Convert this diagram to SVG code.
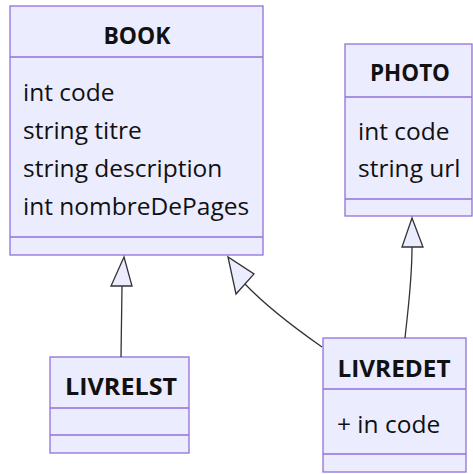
<svg xmlns="http://www.w3.org/2000/svg" width="473" height="474" viewBox="0 0 473 474">
<style>
.box{fill:#ECECFF;stroke:#9370DB;stroke-width:1.3}
.div{stroke:#9370DB;stroke-width:1.3}
.t{font-family:"Open Sans","Noto Sans",sans-serif;font-size:24.5px;fill:#111}
.h{font-weight:bold;text-anchor:middle;font-size:23px}
.edge{fill:none;stroke:#333;stroke-width:1.3}
.arr{fill:#ECECFF;stroke:#333;stroke-width:1.3}
</style>
<rect width="473" height="474" fill="#ffffff"/>
<g id="BOOK">
<rect class="box" x="10" y="6" width="253" height="249"/>
<line class="div" x1="10" y1="57" x2="263" y2="57"/>
<line class="div" x1="10" y1="237" x2="263" y2="237"/>
<text class="t h" x="137" y="44" textLength="67" lengthAdjust="spacingAndGlyphs">BOOK</text>
<text class="t" x="23" y="101">int code</text>
<text class="t" x="23" y="139">string titre</text>
<text class="t" x="23" y="177">string description</text>
<text class="t" x="23" y="215">int nombreDePages</text>
</g>
<g id="PHOTO">
<rect class="box" x="345" y="44" width="127" height="172"/>
<line class="div" x1="345" y1="97" x2="472" y2="97"/>
<line class="div" x1="345" y1="199" x2="472" y2="199"/>
<text class="t h" x="410" y="81" textLength="80" lengthAdjust="spacingAndGlyphs">PHOTO</text>
<text class="t" x="358" y="140">int code</text>
<text class="t" x="358" y="177">string url</text>
</g>
<g id="LIVRELST">
<rect class="box" x="50" y="357" width="139" height="96"/>
<line class="div" x1="50" y1="408" x2="189" y2="408"/>
<line class="div" x1="50" y1="435" x2="189" y2="435"/>
<text class="t h" x="121" y="395" textLength="112" lengthAdjust="spacingAndGlyphs">LIVRELST</text>
</g>
<g id="LIVREDET">
<rect class="box" x="323" y="338" width="143" height="134"/>
<line class="div" x1="323" y1="389" x2="466" y2="389"/>
<line class="div" x1="323" y1="454" x2="466" y2="454"/>
<text class="t h" x="394" y="377" textLength="113" lengthAdjust="spacingAndGlyphs">LIVREDET</text>
<text class="t" x="337" y="433">+ in code</text>
</g>
<g id="connectors">
<path class="edge" d="M121,357 L122,286"/>
<polygon class="arr" points="124,257 111,286 132,286"/>
<path class="edge" d="M322,347 C292,326 266,306 245,284"/>
<polygon class="arr" points="228,257 236,294 254,274"/>
<path class="edge" d="M405,338 C409,300 412,280 412,247"/>
<polygon class="arr" points="412,218 402,247 423,247"/>
</g>
</svg>
